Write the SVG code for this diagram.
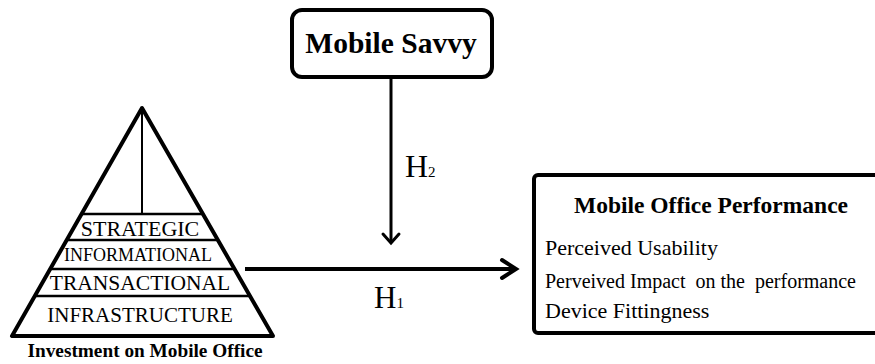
<svg xmlns="http://www.w3.org/2000/svg" width="875" height="364" viewBox="0 0 875 364">
<style>
text{font-family:"Liberation Serif","Times New Roman",serif;fill:#000}
.b{font-weight:bold}
.box{fill:#fff;stroke:#000;stroke-width:4}
.ln{stroke:#000;fill:none}
</style>
<defs>
<marker id="ahH" markerUnits="userSpaceOnUse" markerWidth="20" markerHeight="24" refX="0" refY="0" orient="auto" viewBox="-18 -12 20 24" overflow="visible">
<path d="M-14,-9 L0,0 L-14,9" fill="none" stroke="#000" stroke-width="4" stroke-linecap="round" stroke-linejoin="miter"/>
</marker>
<marker id="ahV" markerUnits="userSpaceOnUse" markerWidth="16" markerHeight="20" refX="0" refY="0" orient="auto" viewBox="-12 -10 14 20" overflow="visible">
<path d="M-9,-8 L0,0 L-9,8" fill="none" stroke="#000" stroke-width="3" stroke-linecap="round"/>
</marker>
</defs>
<rect width="875" height="364" fill="#fff"/>
<g id="investment">
<path d="M142,108 L12,336 L273,336 Z" fill="#fff" stroke="#000" stroke-width="4" stroke-linejoin="round"/>
<line class="ln" x1="142" y1="108" x2="142" y2="214" stroke-width="2"/>
<line class="ln" x1="81.6" y1="214" x2="202.9" y2="214" stroke-width="2.5"/>
<line class="ln" x1="66.7" y1="240" x2="217.8" y2="240" stroke-width="2.5"/>
<line class="ln" x1="50.2" y1="269" x2="234.5" y2="269" stroke-width="2.5"/>
<line class="ln" x1="34.8" y1="296" x2="250" y2="296" stroke-width="2.5"/>
<text x="140" y="236" font-size="22" text-anchor="middle">STRATEGIC</text>
<text x="138" y="261" font-size="18" text-anchor="middle">INFORMATIONAL</text>
<text x="140" y="290" font-size="21.5" text-anchor="middle">TRANSACTIONAL</text>
<text x="140" y="322" font-size="21" text-anchor="middle">INFRASTRUCTURE</text>
<text x="145" y="357" font-size="19.3" text-anchor="middle" class="b">Investment on Mobile Office</text>
</g>
<g id="savvy">
<rect class="box" x="292" y="10" width="200" height="67" rx="10"/>
<text x="391" y="53" font-size="29.5" text-anchor="middle" class="b">Mobile Savvy</text>
</g>
<g id="performance">
<rect class="box" x="534" y="175" width="350" height="158" rx="4"/>
<text x="711" y="213" font-size="23.5" text-anchor="middle" class="b">Mobile Office Performance</text>
<text x="545" y="255" font-size="22">Perceived Usability</text>
<text x="545" y="288" font-size="20" xml:space="preserve">Perveived Impact  on the  performance</text>
<text x="545" y="318" font-size="22">Device Fittingness</text>
</g>
<g id="connectors">
<line class="ln" x1="245" y1="269" x2="516" y2="269" stroke-width="4" marker-end="url(#ahH)"/>
<line class="ln" x1="391" y1="77" x2="391" y2="243" stroke-width="3" marker-end="url(#ahV)"/>
<text x="405" y="177" font-size="32">H<tspan font-size="15">2</tspan></text>
<text x="374" y="308" font-size="31">H<tspan font-size="15">1</tspan></text>
</g>
</svg>
